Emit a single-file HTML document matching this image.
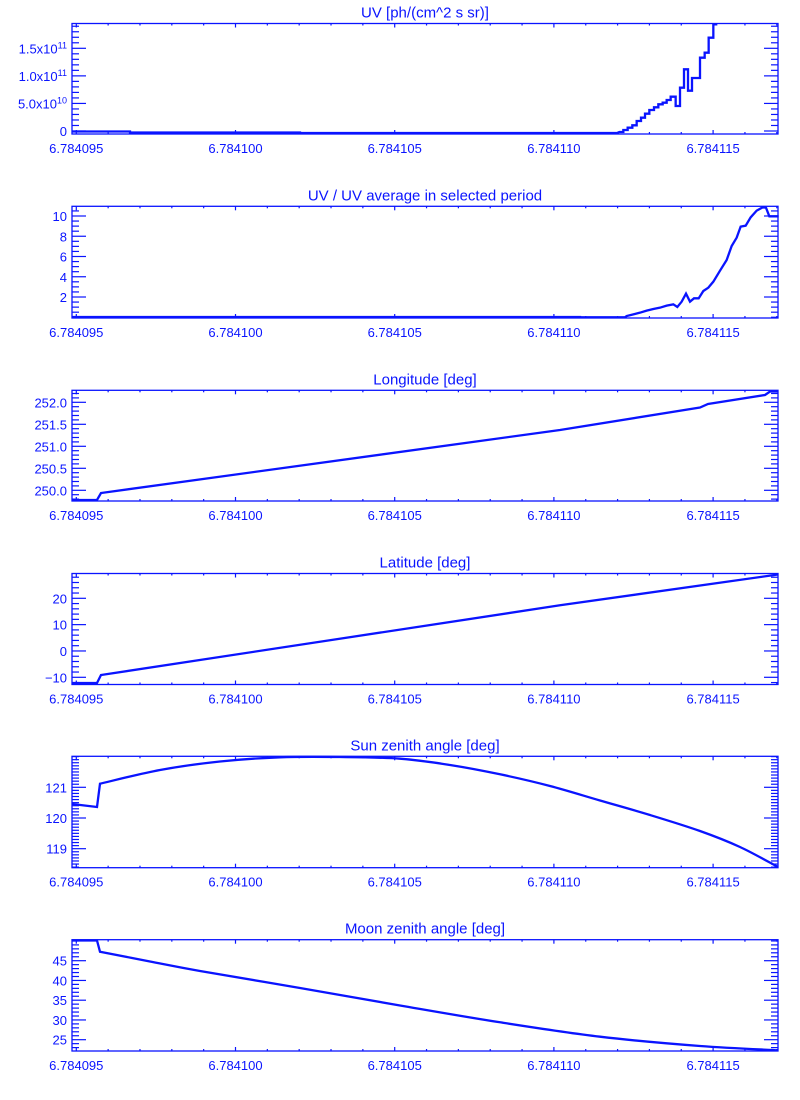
<!DOCTYPE html>
<html><head><meta charset="utf-8"><style>
html,body{margin:0;padding:0;background:#fff;width:800px;height:1100px;overflow:hidden}
svg text{font-family:"Liberation Sans",sans-serif;fill:#0a14ff}
</style></head><body>
<svg id="s" width="800" height="1100" xmlns="http://www.w3.org/2000/svg"></svg>
<script>
const S=document.getElementById('s');const C='#0a14ff';
let h='';
const X0=72,X1=778;
function xp(u){return 76.3+(u-95)*31.84;}
const panels=[
 {t:'UV [ph/(cm^2 s sr)]',top:23.5,bot:134,v1:0,p1:131,v2:1.5e11,p2:48.3,maj:[0,5e10,1e11,1.5e11],lab:['0','5.0x10<tspan dy="-5" font-size="9">10</tspan>','1.0x10<tspan dy="-5" font-size="9">11</tspan>','1.5x10<tspan dy="-5" font-size="9">11</tspan>'],minor:1e10},
 {t:'UV / UV average in selected period',top:206.3,bot:318,v1:2,p1:297,v2:10,p2:216,maj:[2,4,6,8,10],lab:['2','4','6','8','10'],minor:0.5},
 {t:'Longitude [deg]',top:390.3,bot:501,v1:250,p1:490.3,v2:252,p2:402.3,maj:[250,250.5,251,251.5,252],lab:['250.0','250.5','251.0','251.5','252.0'],minor:0.1},
 {t:'Latitude [deg]',top:573.5,bot:684.5,v1:-10,p1:677.3,v2:20,p2:598.3,maj:[-10,0,10,20],lab:['\u221210','0','10','20'],minor:2},
 {t:'Sun zenith angle [deg]',top:756.3,bot:867.7,v1:119,p1:848.7,v2:121,p2:787.3,maj:[119,120,121],lab:['119','120','121'],minor:0.1},
 {t:'Moon zenith angle [deg]',top:939.7,bot:1051,v1:25,p1:1039.7,v2:45,p2:960.7,maj:[25,30,35,40,45],lab:['25','30','35','40','45'],minor:1}
];
panels.forEach(P=>{
 const k=(P.p2-P.p1)/(P.v2-P.v1);const yp=v=>P.p1+(v-P.v1)*k;
 h+=`<rect x="${X0}" y="${P.top}" width="${X1-X0}" height="${P.bot-P.top}" fill="none" stroke="${C}" stroke-width="1.3"/>`;
 h+=`<text x="425" y="${P.top-6}" font-size="15" text-anchor="middle">${P.t}</text>`;
 const vb=P.v1+(P.bot-P.p1)/k, vt=P.v1+(P.top-P.p1)/k;
 const lo=Math.min(vb,vt),hi=Math.max(vb,vt);
 for(let i=Math.ceil(lo/P.minor-1e-6);i*P.minor<=hi+1e-9;i++){
  const v=i*P.minor;const y=yp(v);
  const isM=P.maj.some(m=>Math.abs(m-v)<P.minor*0.01);
  const L=isM?14:7;
  h+=`<line x1="${X0}" x2="${X0+L}" y1="${y}" y2="${y}" stroke="${C}" stroke-width="1.2"/><line x1="${X1-L}" x2="${X1}" y1="${y}" y2="${y}" stroke="${C}" stroke-width="1.2"/>`;
 }
 P.maj.forEach((m,i)=>{h+=`<text x="67" y="${yp(m)+5}" font-size="13" text-anchor="end">${P.lab[i]}</text>`;});
 for(let u=95;u<=117;u++){const x=xp(u);if(x<X0||x>X1)continue;const L=(u%5==0)?4:2;
  h+=`<line x1="${x}" x2="${x}" y1="${P.bot}" y2="${P.bot-L}" stroke="${C}" stroke-width="1.2"/><line x1="${x}" x2="${x}" y1="${P.top}" y2="${P.top+L}" stroke="${C}" stroke-width="1.2"/>`;
  if(u%5==0)h+=`<text x="${x}" y="${P.bot+19}" font-size="13" text-anchor="middle">6.784${String(u).padStart(3,'0')}</text>`;}
});
function pl(pts){return `<polyline fill="none" stroke="${C}" stroke-width="2.3" stroke-linejoin="miter" points="${pts.map(p=>p.join(',')).join(' ')}"/>`;}
function smooth(pre,pts){ // catmull-rom after prefix
 let d='M'+pre.map(p=>p.join(',')).join(' L');
 const a=pts;
 d+=' L'+a[0].join(',');
 for(let i=0;i<a.length-1;i++){
  const p0=a[Math.max(0,i-1)],p1=a[i],p2=a[i+1],p3=a[Math.min(a.length-1,i+2)];
  const c1=[p1[0]+(p2[0]-p0[0])/6,p1[1]+(p2[1]-p0[1])/6];
  const c2=[p2[0]-(p3[0]-p1[0])/6,p2[1]-(p3[1]-p1[1])/6];
  d+=` C${c1.join(',')} ${c2.join(',')} ${p2.join(',')}`;
 }
 return `<path fill="none" stroke="${C}" stroke-width="2.3" d="${d}"/>`;
}
let z=[[118,396],[130,396],[130,390],[143,390],[143,383],[157,383],[157,376],[170,376],[170,363],[183,363],[183,353],[195,353],[195,341],[208,341],[208,330],[222,330],[222,322],[235,322],[235,313],[248,313],[248,308],[260,308],[260,300],[272,300],[272,290],[287,290],[287,318],[300,318],[300,263],[312,263],[312,208],[324,208],[324,272],[336,272],[336,234],[360,234],[360,173],[374,173],[374,158],[386,158],[386,113],[400,113],[400,73],[412,73]];
let p1=[[72,131.5],[130,131.5],[130,132.5],[300,132.5],[300,133],[617,133]].concat(z.map(q=>[580+q[0]/3,q[1]/3]));
h+=pl(p1);
let z2=[[0,397],[135,397],[140,393],[160,388],[180,383],[200,377],[220,372],[240,368],[260,362],[280,358],[292,366],[305,350],[318,326],[330,350],[342,340],[356,340],[370,318],[385,308],[400,290],[420,257],[440,225],[455,183],[470,158],[482,125],[497,122],[512,97],[530,77],[548,67],[558,68],[568,94],[596,94]];
h+=pl([[72,317],[580,317]].concat(z2.map(q=>[580+q[0]/3,185+q[1]/3])));
h+=pl([[72,500],[97,500],[101,493],[560,430],[700,407.5],[708,404],[765,395],[770,391.5],[778,391.5]]);
h+=pl([[72,683],[97,683],[101,675],[560,605.3],[778,574.5]]);
h+=smooth([[72,804],[97,807]],[[100,783.7],[160,770],[220,761.5],[280,757.3],[340,757],[400,758.7],[450,765],[500,774.3],[550,786],[600,800.5],[650,815],[700,831],[740,847],[778,867]]);
h+=smooth([[72,940.5],[97,940.5]],[[100,951.7],[150,961.5],[200,971],[300,988],[400,1005.5],[500,1022.3],[600,1036.7],[700,1046],[778,1050.3]]);
S.innerHTML=h;
</script>
</body></html>
